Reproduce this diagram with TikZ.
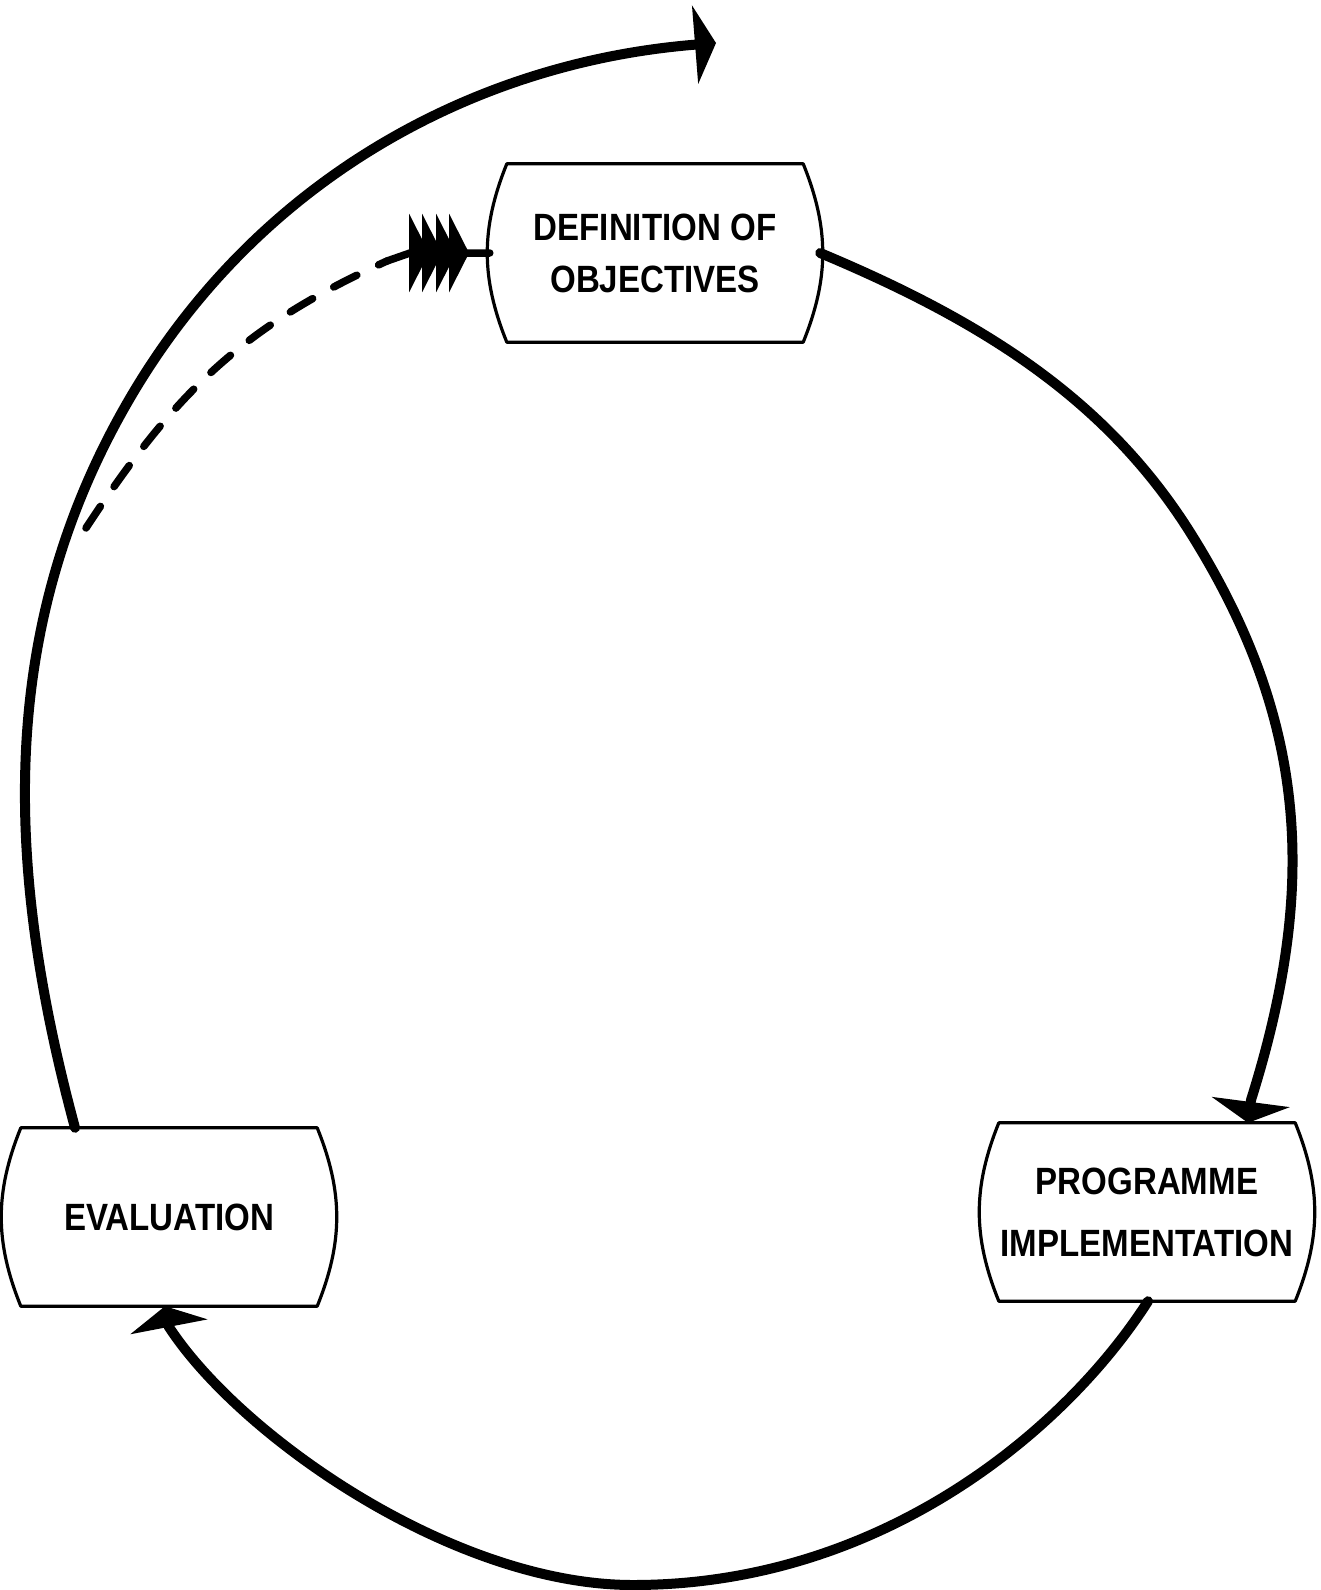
\documentclass[tikz,border=0pt]{standalone}
\usepackage{fontspec}
\newfontfamily\labelfont{Liberation Sans}[FakeStretch=0.87]
\usetikzlibrary{arrows.meta,decorations.markings}

\tikzset{
  flow/.style={line width=10pt, line cap=round},
  head/.style={-{Triangle[width=78pt,length=21pt]}},
  stage/.style={minimum width=330pt, minimum height=178pt, inner sep=0pt,
    align=center, font=\labelfont\bfseries\fontsize{38}{52}\selectfont},
  outline/.style={line width=3.2pt, line join=round},
  feedback/.style={line width=7.5pt, line cap=round, dash pattern=on 26pt off 24pt},
  fbshaft/.style={line width=7.5pt, line cap=round, line join=round},
}

% cask-shaped outline: straight top and bottom, sides bulging outwards
\newcommand\stageoutline[1]{%
  \draw[outline] ([xshift=17pt]#1.north west) -- ([xshift=-17pt]#1.north east)
    to[bend left=22] ([xshift=-17pt]#1.south east) -- ([xshift=17pt]#1.south west)
    to[bend left=22] ([xshift=17pt]#1.north west) -- ([xshift=40pt]#1.north west);}

\begin{document}
\begin{tikzpicture}[x=1pt,y=-1pt]
  \useasboundingbox (0,0) rectangle (1321,1590);
  \fill[white] (0,0) rectangle (1321,1590);

  % the three stages
  \node[stage] (def)  at (655,253)  {DEFINITION OF\\OBJECTIVES};
  \node[stage] (prog) at (1147,1212) {PROGRAMME\\[10pt]IMPLEMENTATION};
  \node[stage] (eval) at (169,1217) {EVALUATION};
  \stageoutline{def}
  \stageoutline{prog}
  \stageoutline{eval}

  % cycle arcs
  \draw[flow, head] (def.east)
    .. controls (985,322) and (1109,401) .. (1193,537)
    .. controls (1309,724) and (1317,890) .. (1251,1100)
    -- ([xshift=101pt]prog.north);

  \draw[flow, head] ([xshift=1pt]prog.south)
    .. controls (1067,1428) and (883,1585) .. (633,1585)
    .. controls (453,1585) and (240,1436) .. (169,1327)
    -- ([xshift=-4pt]eval.south);

  \coordinate (loopend) at (716,43);
  \draw[flow, head] ([xshift=-94pt]eval.north)
    .. controls (5,868) and (-5,625) .. (133,393)
    .. controls (261,178) and (476,62) .. (loopend);

  % feedback path into the definition of objectives
  \coordinate (fbstart) at (86,528);
  \coordinate (fbend) at (387,261);
  \coordinate (fbknee) at (410,253);
  \draw[feedback] (fbstart) .. controls (174,394) and (241,327) .. (fbend);
  \draw[fbshaft, postaction=decorate, decoration={markings,
      mark=at position 43.4pt with {\arrow{Triangle[width=78pt,length=20pt]}},
      mark=at position 56.4pt with {\arrow{Triangle[width=78pt,length=20pt]}},
      mark=at position 70.4pt with {\arrow{Triangle[width=78pt,length=20pt]}},
      mark=at position 83.4pt with {\arrow{Triangle[width=78pt,length=20pt]}}}]
    (fbend) -- (fbknee) -- (def.west);
\end{tikzpicture}
\end{document}
